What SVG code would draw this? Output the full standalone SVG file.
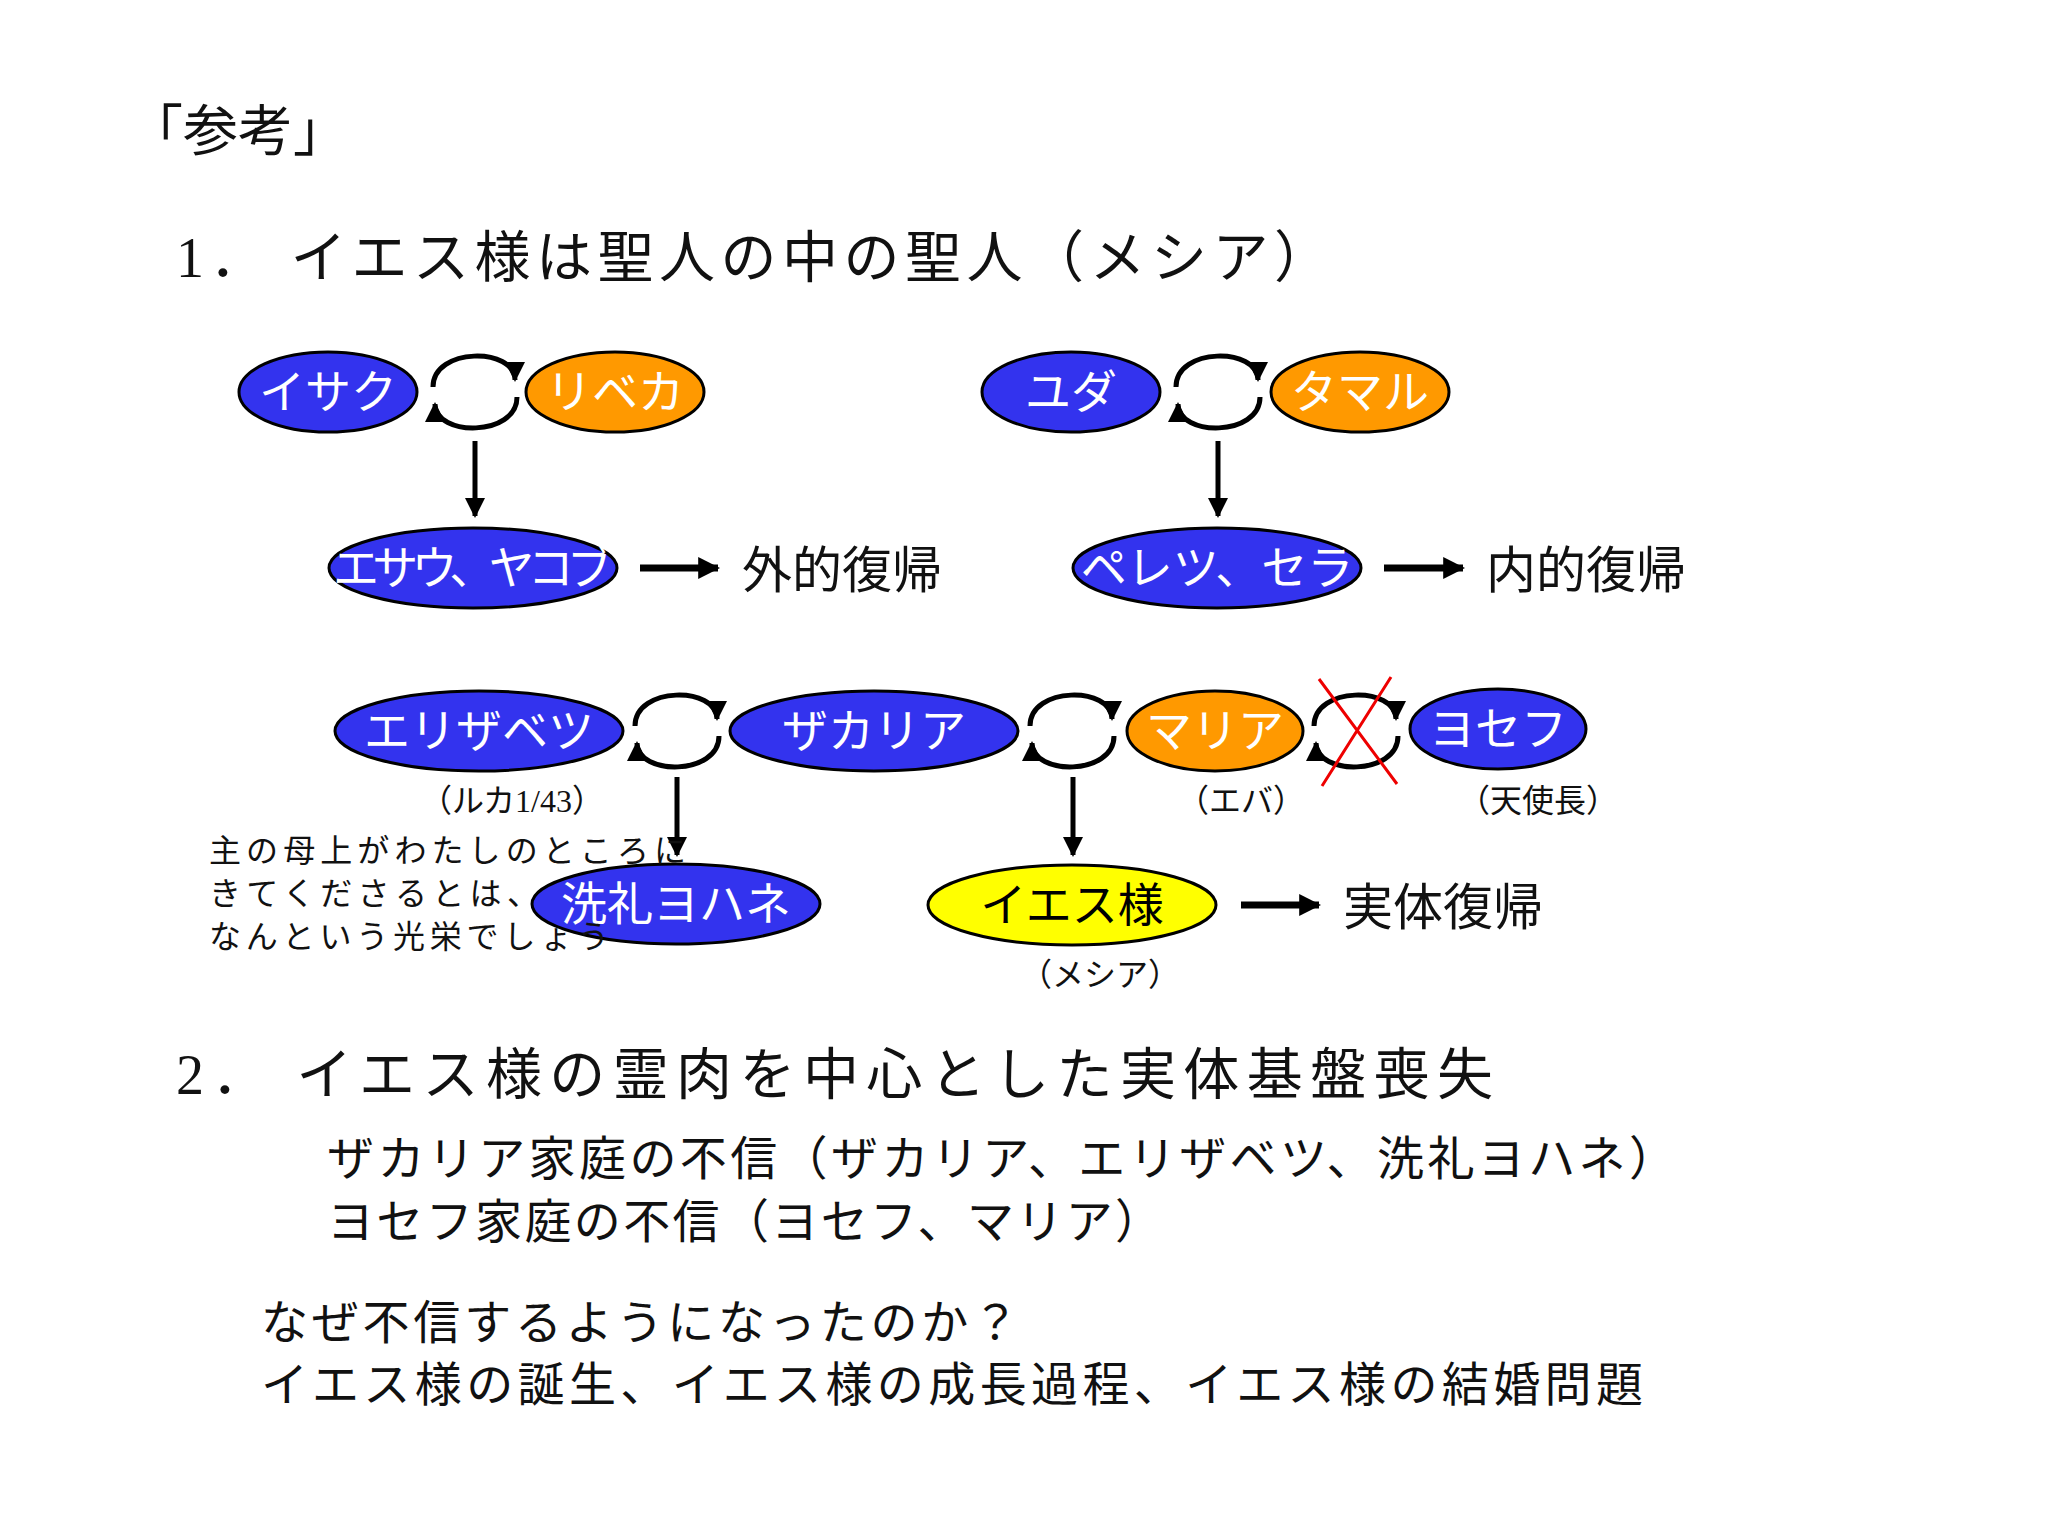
<svg xmlns="http://www.w3.org/2000/svg" width="2048" height="1536" viewBox="0 0 2048 1536">
<style>
text{font-family:"Liberation Serif","Noto Sans CJK JP",serif;fill:#111}
.b{fill:#3333ee;stroke:#000;stroke-width:3}
.o{fill:#ff9900;stroke:#000;stroke-width:3}
.y{fill:#ffff00;stroke:#000;stroke-width:3}
.w{fill:#fff;font-size:46px;text-anchor:middle}
.k{fill:#000;font-size:46px;text-anchor:middle}
.c{fill:none;stroke:#000;stroke-width:5}
.a{stroke:#000;stroke-width:5;fill:none}
.t{stroke:#000;stroke-width:7;fill:none}
.s{font-size:32px}
.m{font-size:32px;text-anchor:middle}
</style>
<defs>
<marker id="h" viewBox="0 0 10 10" refX="9" refY="5" markerWidth="20" markerHeight="20" markerUnits="userSpaceOnUse" orient="auto"><path d="M0,0L10,5L0,10z" fill="#000"/></marker>
<marker id="h2" viewBox="0 0 10 10" refX="9" refY="5" markerWidth="22" markerHeight="22" markerUnits="userSpaceOnUse" orient="auto"><path d="M0,0L10,5L0,10z" fill="#000"/></marker>
</defs>
<rect width="2048" height="1536" fill="#fff"/>
<text x="128" y="150" font-size="55">「参考」</text>
<text x="176" y="277" font-size="56" textLength="1154" lengthAdjust="spacing">1．  イエス様は聖人の中の聖人（メシア）</text>
<g id="connectors">
<path class="c" marker-end="url(#h)" d="M433,387 C433,347 515,347 515,380"/>
<path class="c" marker-end="url(#h)" d="M517,397 C517,437 435,437 435,404"/>
<path class="c" marker-end="url(#h)" d="M1176,387 C1176,347 1258,347 1258,380"/>
<path class="c" marker-end="url(#h)" d="M1260,397 C1260,437 1178,437 1178,404"/>
<path class="c" marker-end="url(#h)" d="M635,726 C635,686 717,686 717,719"/>
<path class="c" marker-end="url(#h)" d="M719,736 C719,776 637,776 637,743"/>
<path class="c" marker-end="url(#h)" d="M1030,726 C1030,686 1112,686 1112,719"/>
<path class="c" marker-end="url(#h)" d="M1114,736 C1114,776 1032,776 1032,743"/>
<path class="c" marker-end="url(#h)" d="M1314,726 C1314,686 1396,686 1396,719"/>
<path class="c" marker-end="url(#h)" d="M1398,736 C1398,776 1316,776 1316,743"/>
<path d="M1319,679 L1397,784 M1391,677 L1322,786" stroke="#e00" stroke-width="3"/>
<path class="a" marker-end="url(#h)" d="M475,441 V516"/>
<path class="a" marker-end="url(#h)" d="M1218,441 V516"/>
<path class="a" marker-end="url(#h)" d="M677,777 V855"/>
<path class="a" marker-end="url(#h)" d="M1073,777 V855"/>
<path class="t" marker-end="url(#h2)" d="M640,568 H718"/>
<path class="t" marker-end="url(#h2)" d="M1384,568 H1463"/>
<path class="t" marker-end="url(#h2)" d="M1241,905 H1319"/>
</g>
<g id="isaku"><ellipse class="b" cx="328" cy="392" rx="89" ry="40"/><text class="w" x="328" y="408">イサク</text></g>
<g id="ribeka"><ellipse class="o" cx="615" cy="392" rx="89" ry="40"/><text class="w" x="615" y="408">リベカ</text></g>
<g id="esau"><ellipse class="b" cx="473" cy="568" rx="144" ry="40"/><text class="w" x="473" y="584" font-size="42" textLength="280">エサウ、ヤコブ</text></g>
<text x="742" y="588" font-size="50">外的復帰</text>
<g id="yuda"><ellipse class="b" cx="1071" cy="392" rx="89" ry="40"/><text class="w" x="1071" y="408">ユダ</text></g>
<g id="tamaru"><ellipse class="o" cx="1360" cy="392" rx="89" ry="40"/><text class="w" x="1360" y="408">タマル</text></g>
<g id="peretsu"><ellipse class="b" cx="1217" cy="568" rx="144" ry="40"/><text class="w" x="1217" y="584" font-size="42">ペレツ、セラ</text></g>
<text x="1486" y="588" font-size="50">内的復帰</text>
<g id="erizabetsu"><ellipse class="b" cx="479" cy="731" rx="144" ry="40"/><text class="w" x="479" y="747" font-size="42">エリザベツ</text></g>
<g id="zakaria"><ellipse class="b" cx="874" cy="731" rx="144" ry="40"/><text class="w" x="874" y="747" font-size="42">ザカリア</text></g>
<g id="maria"><ellipse class="o" cx="1215" cy="731" rx="88" ry="40"/><text class="w" x="1215" y="747">マリア</text></g>
<g id="yosefu"><ellipse class="b" cx="1498" cy="729" rx="88" ry="40"/><text class="w" x="1498" y="745">ヨセフ</text></g>
<text class="m" x="512" y="812">（ルカ1/43）</text>
<text class="m" x="1241" y="812">（エバ）</text>
<text class="m" x="1538" y="812">（天使長）</text>
<g id="yohane"><ellipse class="b" cx="676" cy="904" rx="144" ry="40"/><text class="w" x="676" y="920" font-size="44">洗礼ヨハネ</text></g>
<text class="s" x="209" y="862" textLength="477" lengthAdjust="spacing">主の母上がわたしのところに</text>
<text class="s" x="209" y="905" textLength="330" lengthAdjust="spacing">きてくださるとは、</text>
<text class="s" x="209" y="948" textLength="400" lengthAdjust="spacing">なんという光栄でしょう</text>
<g id="iesu"><ellipse class="y" cx="1072" cy="905" rx="144" ry="40"/><text class="k" x="1072" y="921" font-size="42">イエス様</text></g>
<text x="1343" y="925" font-size="50">実体復帰</text>
<text class="m" x="1100" y="986">（メシア）</text>
<text x="176" y="1094" font-size="56" textLength="1317" lengthAdjust="spacing">2．  イエス様の霊肉を中心とした実体基盤喪失</text>
<text x="327" y="1175" font-size="47" textLength="1349" lengthAdjust="spacing">ザカリア家庭の不信（ザカリア、エリザベツ、洗礼ヨハネ）</text>
<text x="327" y="1238" font-size="47" textLength="835" lengthAdjust="spacing">ヨセフ家庭の不信（ヨセフ、マリア）</text>
<text x="261" y="1339" font-size="47" textLength="758" lengthAdjust="spacing">なぜ不信するようになったのか？</text>
<text x="261" y="1401" font-size="47" textLength="1382" lengthAdjust="spacing">イエス様の誕生、イエス様の成長過程、イエス様の結婚問題</text>
</svg>
